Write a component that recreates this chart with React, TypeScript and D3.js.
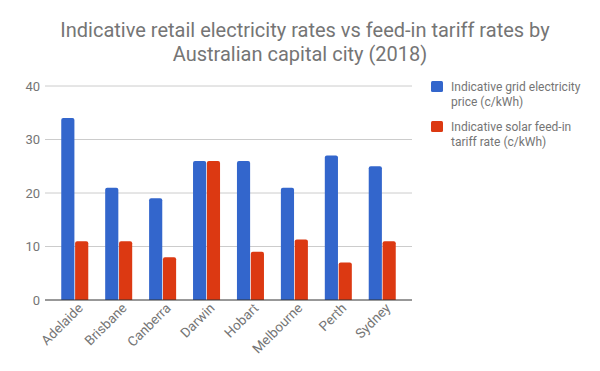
import React, { useEffect, useRef } from 'react'
import * as d3 from 'd3'

const cities = ['Adelaide', 'Brisbane', 'Canberra', 'Darwin', 'Hobart', 'Melbourne', 'Perth', 'Sydney']
const gridPrice = [34, 21, 19, 26, 26, 21, 27, 25]
const feedIn = [11, 11, 8, 26, 9, 11.3, 7, 11]
const seriesNames = ['Indicative grid electricity price (c/kWh)', 'Indicative solar feed-in tariff rate (c/kWh)']
const legendLines = [['Indicative grid electricity', 'price (c/kWh)'], ['Indicative solar feed-in', 'tariff rate (c/kWh)']]
const yTicks = [0, 10, 20, 30, 40]
const titleLines = ['Indicative retail electricity rates vs feed-in tariff rates by', 'Australian capital city (2018)']

const colors = ['#3366cc', '#dc3912']
const font = 'Roboto, Arial, sans-serif'

export default function App() {
    const ref = useRef<SVGSVGElement>(null)

    useEffect(() => {
        const svg = d3.select(ref.current)
        svg.selectAll('*').remove()

        const left = 45, right = 412, top = 86, bottom = 300

        const x = d3.scaleBand<string>()
            .domain(cities)
            .range([left, right])
            .paddingInner(0.385)
            .paddingOuter(0.37)
        const inner = d3.scaleBand<number>()
            .domain([0, 1])
            .range([0, x.bandwidth()])
            .paddingInner(0.05)
        const y = d3.scaleLinear().domain([0, 40]).range([bottom, top])

        // title
        svg.append('g').selectAll('text')
            .data(titleLines)
            .enter().append('text')
            .attr('x', (d, i) => i === 0 ? 305 : 300)
            .attr('y', (d, i) => 37 + i * 24)
            .attr('text-anchor', 'middle')
            .attr('font-family', font)
            .attr('font-size', 20)
            .attr('fill', '#757575')
            .text(d => d)

        // grid + y labels
        const grid = svg.append('g')
        grid.selectAll('line')
            .data(yTicks.filter(t => t > 0))
            .enter().append('line')
            .attr('x1', left).attr('x2', right)
            .attr('y1', d => y(d)).attr('y2', d => y(d))
            .attr('stroke', '#cccccc')
        grid.selectAll('text')
            .data(yTicks)
            .enter().append('text')
            .attr('x', 40)
            .attr('y', d => y(d) + 4.5)
            .attr('text-anchor', 'end')
            .attr('font-family', font)
            .attr('font-size', 13)
            .attr('fill', '#757575')
            .text(d => d)

        // bars
        const rows = cities.map((c, i) => ({ city: c, values: [gridPrice[i], feedIn[i]] }))
        const groups = svg.append('g').selectAll('g')
            .data(rows)
            .enter().append('g')
            .attr('transform', d => 'translate(' + x(d.city) + ',0)')
        groups.selectAll('path')
            .data(d => d.values.map((v, k) => ({ v, k })))
            .enter().append('path')
            .attr('fill', d => colors[d.k])
            .attr('d', d => {
                const x0 = inner(d.k) as number
                const w = inner.bandwidth()
                const y0 = y(d.v)
                const r = 2
                return 'M' + x0 + ',' + bottom +
                    'V' + (y0 + r) +
                    'Q' + x0 + ',' + y0 + ' ' + (x0 + r) + ',' + y0 +
                    'H' + (x0 + w - r) +
                    'Q' + (x0 + w) + ',' + y0 + ' ' + (x0 + w) + ',' + (y0 + r) +
                    'V' + bottom + 'Z'
            })

        // baseline
        svg.append('line')
            .attr('x1', left).attr('x2', right)
            .attr('y1', bottom).attr('y2', bottom)
            .attr('stroke', '#333333')
            .attr('stroke-width', 1)

        // x labels
        svg.append('g').selectAll('text')
            .data(cities)
            .enter().append('text')
            .attr('transform', d => {
                const cx = (x(d) as number) + x.bandwidth() / 2 + 9
                return 'translate(' + cx + ',' + (bottom + 9) + ') rotate(-45)'
            })
            .attr('text-anchor', 'end')
            .attr('font-family', font)
            .attr('font-size', 13.5)
            .attr('fill', '#757575')
            .text(d => d)

        // legend
        const legend = svg.append('g').selectAll('g')
            .data(seriesNames)
            .enter().append('g')
            .attr('transform', (d, i) => 'translate(431,' + (81 + i * 40) + ')')
        legend.append('rect')
            .attr('width', 12).attr('height', 11)
            .attr('rx', 1.5)
            .attr('fill', (d, i) => colors[i])
        legend.each(function (d, i) {
            d3.select(this).selectAll('text')
                .data(legendLines[i])
                .enter().append('text')
                .attr('x', 20)
                .attr('y', (t, j) => 10 + j * 15)
                .attr('font-family', font)
                .attr('font-size', 12)
                .attr('fill', '#757575')
                .text(t => t)
        })
    }, [])

    return (
        <svg ref={ref} width={600} height={371}
            style={{ position: 'absolute', left: 0, top: 0, background: '#fff' }} />
    )
}
